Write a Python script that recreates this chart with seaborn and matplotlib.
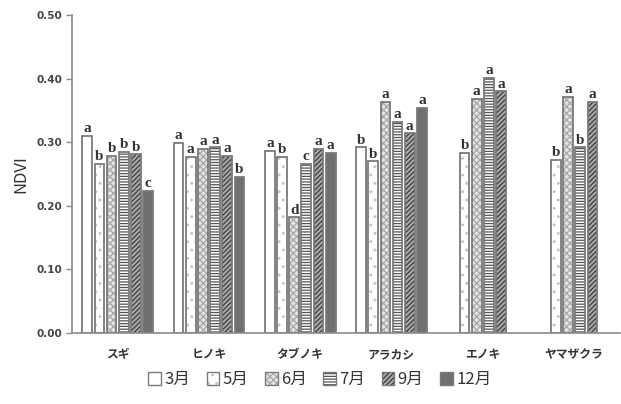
import numpy as np
import pandas as pd
import seaborn as sns
import matplotlib
matplotlib.use("Agg")
import matplotlib.pyplot as plt
from matplotlib.patches import Patch

# Species and sampling months
species = ["スギ", "ヒノキ", "タブノキ", "アラカシ", "エノキ", "ヤマザクラ"]
months = ["3月", "5月", "6月", "7月", "9月", "12月"]

# Mean NDVI per species (rows) and month (columns); None = not measured
ndvi_sugi = [0.310, 0.266, 0.278, 0.285, 0.281, 0.223]
ndvi_hinoki = [0.299, 0.277, 0.289, 0.292, 0.278, 0.245]
ndvi_tabunoki = [0.286, 0.277, 0.182, 0.266, 0.289, 0.283]
ndvi_arakashi = [0.292, 0.270, 0.363, 0.332, 0.314, 0.354]
ndvi_enoki = [None, 0.283, 0.368, 0.401, 0.380, None]
ndvi_yamazakura = [None, 0.272, 0.371, 0.292, 0.363, None]

# Significance letters for each bar
sig_sugi = ["a", "b", "b", "b", "b", "c"]
sig_hinoki = ["a", "a", "a", "a", "a", "b"]
sig_tabunoki = ["a", "b", "d", "c", "a", "a"]
sig_arakashi = ["b", "b", "a", "a", "a", "a"]
sig_enoki = [None, "b", "a", "a", "a", None]
sig_yamazakura = [None, "b", "a", "b", "a", None]

yticks = [0.0, 0.1, 0.2, 0.3, 0.4, 0.5]

values = [ndvi_sugi, ndvi_hinoki, ndvi_tabunoki, ndvi_arakashi, ndvi_enoki, ndvi_yamazakura]
letters = [sig_sugi, sig_hinoki, sig_tabunoki, sig_arakashi, sig_enoki, sig_yamazakura]

rows = []
for sp, vals, sigs in zip(species, values, letters):
    for m, v, s in zip(months, vals, sigs):
        if v is not None:
            rows.append({"species": sp, "month": m, "ndvi": v, "sig": s})
df = pd.DataFrame(rows)

sns.set_theme(style="white")
plt.rcParams["font.family"] = ["Noto Sans CJK JP", "DejaVu Sans"]
plt.rcParams["hatch.linewidth"] = 0.9

edge = "#7a7a7a"
styles = {
    "3月": dict(face="white", hatch="", hcolor=edge),
    "5月": dict(face="white", hatch="..", hcolor="#c4c4c4"),
    "6月": dict(face="#e4e4e4", hatch="xxxxx", hcolor="#a8a8a8"),
    "7月": dict(face="white", hatch="------", hcolor="#555555"),
    "9月": dict(face="#a9a9a9", hatch="///////", hcolor="#3c3c3c"),
    "12月": dict(face="#707070", hatch="", hcolor=edge),
}


def style_patch(p, st, lw):
    p.set_facecolor(st["face"])
    p.set_edgecolor(edge)
    p.set_linewidth(lw)
    p.set_hatch(st["hatch"])
    p._hatch_color = matplotlib.colors.to_rgba(st["hcolor"])


fig = plt.figure(figsize=(6.21, 4.04), dpi=100)
ax = fig.add_axes([0.116, 0.176, 0.882, 0.787])

sns.barplot(data=df, x="species", y="ndvi", hue="month", order=species,
            hue_order=months, width=0.8, gap=0.2, ax=ax, legend=False,
            palette=["white"] * len(months), errorbar=None, saturation=1)

for m, cont in zip(months, ax.containers):
    st = styles[m]
    for bar in cont:
        style_patch(bar, st, 1.3)
        h = bar.get_height()
        if not np.isfinite(h):
            continue
        xc = bar.get_x() + bar.get_width() / 2
        ci = int(round(xc))
        sig = df[(df.species == species[ci]) & (df.month == m)]["sig"].iloc[0]
        ax.text(xc, h + 0.001, sig, ha="center", va="bottom",
                family="Liberation Serif", fontweight="bold", fontsize=11,
                color="#333333")

ax.set_xlim(-0.5, 5.5)
ax.set_ylim(0, 0.5)
ax.set_yticks(yticks)
ax.set_yticklabels([f"{t:.2f}" for t in yticks], fontweight="bold",
                   fontsize=7.5, color="#444444", family="DejaVu Sans")
ax.set_xticks(range(len(species)))
ax.set_xticklabels(species, fontweight="bold", fontsize=8.5, color="#333333")
ax.set_xlabel("")
ax.set_ylabel("NDVI", fontsize=12, color="#333333", labelpad=5)

for s in ["top", "right"]:
    ax.spines[s].set_visible(False)
for s in ["left", "bottom"]:
    ax.spines[s].set_color("#8a8a8a")
    ax.spines[s].set_linewidth(1.2)
ax.tick_params(axis="y", left=True, length=4, color="#8a8a8a", width=1, pad=3)
ax.tick_params(axis="x", bottom=False, pad=5)

handles = []
for m in months:
    p = Patch(label=m)
    style_patch(p, styles[m], 1.0)
    handles.append(p)
fig.legend(handles=handles, loc="center", bbox_to_anchor=(0.515, 0.06), ncol=6,
           frameon=False, fontsize=12, handlelength=0.75, handleheight=0.75,
           handletextpad=0.2, columnspacing=1.0, labelcolor="#333333")

fig.savefig("out.png", dpi=100)
